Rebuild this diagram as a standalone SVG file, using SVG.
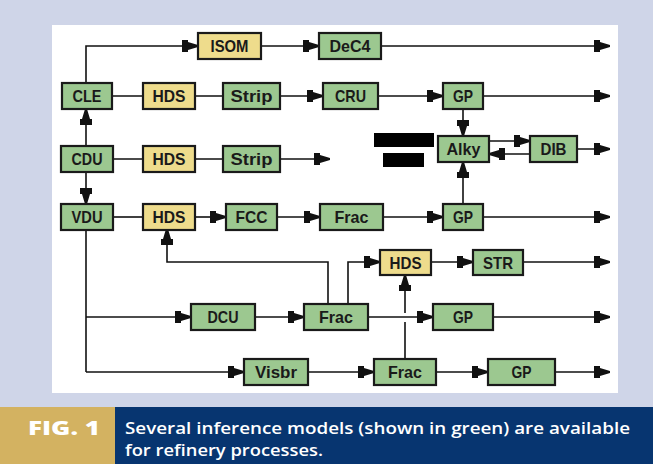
<svg xmlns="http://www.w3.org/2000/svg" width="653" height="464" viewBox="0 0 653 464">
<defs>
<marker id="ah" markerUnits="userSpaceOnUse" markerWidth="18" markerHeight="14" viewBox="0 -7 18 14" refX="16" refY="0" orient="auto">
<path d="M0,-6 H6 V-4 L16,-1 V1 L6,4 V6 H0 Z" fill="#111"/>
</marker>
<style>
.g rect{stroke:#1a1a1a;stroke-width:2.2}
.gr{fill:#9cc890}
.ye{fill:#eedc8c}
.g text{font-family:"Liberation Sans",Arial,sans-serif;font-weight:bold;font-size:17px;fill:#1a1a1a;text-anchor:middle}
.c path{fill:none;stroke:#111;stroke-width:1.6}
.a{marker-end:url(#ah)}
</style>
</defs>
<rect width="653" height="464" fill="#cfd5e8"/>
<rect x="52" y="25" width="566" height="368" fill="#fff"/>

<g class="c" id="connectors">
<path class="a" d="M86,83 V46 H198"/>
<path class="a" d="M261,46 H319"/>
<path class="a" d="M381,46 H610"/>
<path d="M112,96 H143 M195,96 H223"/>
<path class="a" d="M280,96 H323"/>
<path class="a" d="M378,96 H443"/>
<path class="a" d="M483,96 H610"/>
<path class="a" d="M86,146 V109"/>
<path d="M113,159 H143 M195,159 H223"/>
<path class="a" d="M280,159 H330"/>
<path class="a" d="M86,172 V204"/>
<path class="a" d="M463,109 V136"/>
<path class="a" d="M463,203 V162"/>
<path class="a" d="M489,141 H530"/>
<path class="a" d="M530,154 H489"/>
<path class="a" d="M577,149 H610"/>
<path d="M113,217 H143"/>
<path class="a" d="M195,217 H226"/>
<path class="a" d="M277,217 H320"/>
<path class="a" d="M383,217 H443"/>
<path class="a" d="M483,217 H610"/>
<path d="M86,229 V372"/>
<path class="a" d="M328,304 V262 H167 V229"/>
<path class="a" d="M348,304 V262 H380"/>
<path class="a" d="M431,262 H473"/>
<path class="a" d="M523,262 H610"/>
<path class="a" d="M405,359 V322 M405,313 V275"/>
<path class="a" d="M86,317 H191"/>
<path class="a" d="M255,317 H304"/>
<path class="a" d="M368,317 H433"/>
<path class="a" d="M493,317 H610"/>
<path class="a" d="M86,372 H244"/>
<path class="a" d="M308,372 H374"/>
<path class="a" d="M436,372 H488"/>
<path class="a" d="M555,372 H610"/>
</g>

<rect x="374" y="133" width="60" height="14" fill="#000"/>
<rect x="383" y="153" width="41" height="14" fill="#000"/>

<g class="g" id="isom"><rect class="ye" x="198" y="33" width="63" height="26"/><text x="229.5" y="52" textLength="38" lengthAdjust="spacingAndGlyphs">ISOM</text></g>
<g class="g" id="dec4"><rect class="gr" x="319" y="33" width="62" height="26"/><text x="350" y="52" textLength="41" lengthAdjust="spacingAndGlyphs">DeC4</text></g>

<g class="g" id="cle"><rect class="gr" x="62" y="83" width="50" height="26"/><text x="87" y="102" textLength="29" lengthAdjust="spacingAndGlyphs">CLE</text></g>
<g class="g" id="hds1"><rect class="ye" x="143" y="83" width="52" height="26"/><text x="169" y="102" textLength="33" lengthAdjust="spacingAndGlyphs">HDS</text></g>
<g class="g" id="strip1"><rect class="gr" x="223" y="83" width="57" height="26"/><text x="251.5" y="102" textLength="42" lengthAdjust="spacingAndGlyphs">Strip</text></g>
<g class="g" id="cru"><rect class="gr" x="323" y="83" width="55" height="26"/><text x="350.5" y="102" textLength="31" lengthAdjust="spacingAndGlyphs">CRU</text></g>
<g class="g" id="gp1"><rect class="gr" x="443" y="83" width="40" height="26"/><text x="463" y="102" textLength="20" lengthAdjust="spacingAndGlyphs">GP</text></g>

<g class="g" id="cdu"><rect class="gr" x="61" y="146" width="52" height="26"/><text x="87" y="165" textLength="31" lengthAdjust="spacingAndGlyphs">CDU</text></g>
<g class="g" id="hds2"><rect class="ye" x="143" y="146" width="52" height="26"/><text x="169" y="165" textLength="33" lengthAdjust="spacingAndGlyphs">HDS</text></g>
<g class="g" id="strip2"><rect class="gr" x="223" y="146" width="57" height="26"/><text x="251.5" y="165" textLength="42" lengthAdjust="spacingAndGlyphs">Strip</text></g>
<g class="g" id="alky"><rect class="gr" x="438" y="136" width="51" height="26"/><text x="463.5" y="155" textLength="34" lengthAdjust="spacingAndGlyphs">Alky</text></g>
<g class="g" id="dib"><rect class="gr" x="530" y="136" width="47" height="26"/><text x="553.5" y="155" textLength="26" lengthAdjust="spacingAndGlyphs">DIB</text></g>

<g class="g" id="vdu"><rect class="gr" x="61" y="204" width="52" height="26"/><text x="87" y="223" textLength="31" lengthAdjust="spacingAndGlyphs">VDU</text></g>
<g class="g" id="hds3"><rect class="ye" x="143" y="204" width="52" height="26"/><text x="169" y="223" textLength="33" lengthAdjust="spacingAndGlyphs">HDS</text></g>
<g class="g" id="fcc"><rect class="gr" x="226" y="204" width="51" height="26"/><text x="251.5" y="223" textLength="32" lengthAdjust="spacingAndGlyphs">FCC</text></g>
<g class="g" id="frac1"><rect class="gr" x="320" y="204" width="63" height="26"/><text x="351.5" y="223" textLength="34" lengthAdjust="spacingAndGlyphs">Frac</text></g>
<g class="g" id="gp2"><rect class="gr" x="443" y="204" width="40" height="26"/><text x="463" y="223" textLength="20" lengthAdjust="spacingAndGlyphs">GP</text></g>

<g class="g" id="hds4"><rect class="ye" x="380" y="250" width="51" height="25"/><text x="405.5" y="268.5" textLength="32" lengthAdjust="spacingAndGlyphs">HDS</text></g>
<g class="g" id="str"><rect class="gr" x="473" y="250" width="50" height="25"/><text x="498" y="268.5" textLength="30" lengthAdjust="spacingAndGlyphs">STR</text></g>

<g class="g" id="dcu"><rect class="gr" x="191" y="304" width="64" height="26"/><text x="223" y="323" textLength="31" lengthAdjust="spacingAndGlyphs">DCU</text></g>
<g class="g" id="frac2"><rect class="gr" x="304" y="304" width="64" height="26"/><text x="336" y="323" textLength="34" lengthAdjust="spacingAndGlyphs">Frac</text></g>
<g class="g" id="gp3"><rect class="gr" x="433" y="304" width="60" height="26"/><text x="463" y="323" textLength="20" lengthAdjust="spacingAndGlyphs">GP</text></g>

<g class="g" id="visbr"><rect class="gr" x="244" y="359" width="64" height="26"/><text x="276" y="378" textLength="42" lengthAdjust="spacingAndGlyphs">Visbr</text></g>
<g class="g" id="frac3"><rect class="gr" x="374" y="359" width="62" height="26"/><text x="405" y="378" textLength="34" lengthAdjust="spacingAndGlyphs">Frac</text></g>
<g class="g" id="gp4"><rect class="gr" x="488" y="359" width="67" height="26"/><text x="521.5" y="378" textLength="20" lengthAdjust="spacingAndGlyphs">GP</text></g>

<g id="caption">
<rect x="0" y="407" width="115" height="57" fill="#d3b261"/>
<rect x="115" y="407" width="538" height="57" fill="#073570"/>
<text x="28" y="435" font-family="'Open Sans',Arial,sans-serif" font-weight="800" font-size="20" fill="#fff" textLength="72" lengthAdjust="spacingAndGlyphs">FIG. 1</text>
<text x="125" y="434" font-family="'Open Sans',Arial,sans-serif" font-weight="600" font-size="17" fill="#fff" textLength="505" lengthAdjust="spacingAndGlyphs">Several inference models (shown in green) are available</text>
<text x="125" y="456" font-family="'Open Sans',Arial,sans-serif" font-weight="600" font-size="17" fill="#fff" textLength="198" lengthAdjust="spacingAndGlyphs">for refinery processes.</text>
</g>
</svg>
